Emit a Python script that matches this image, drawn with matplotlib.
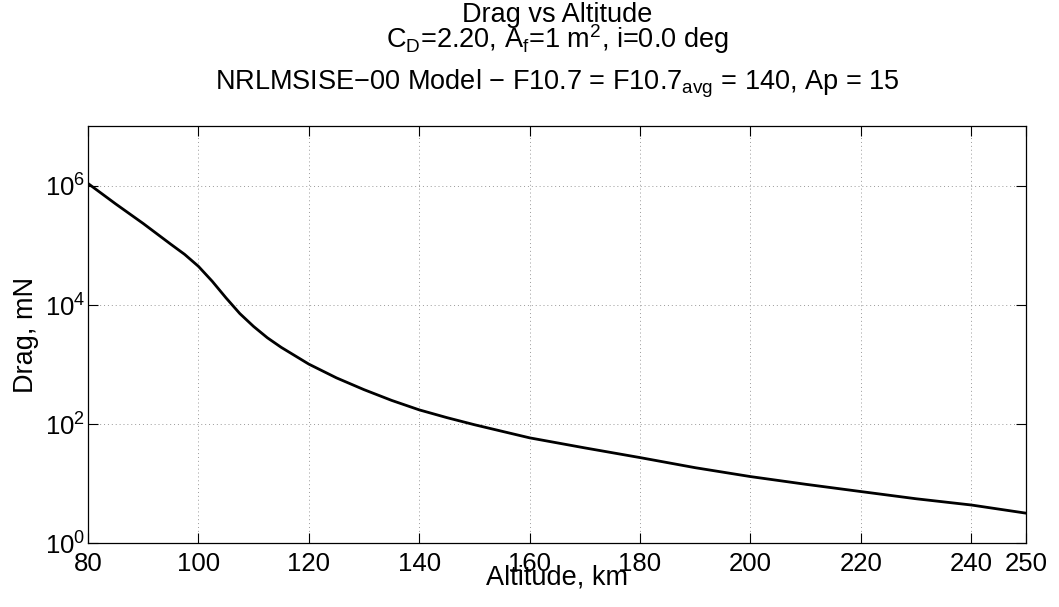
#!/usr/bin/env python3

import numpy as np
import matplotlib
matplotlib.use("Agg")
import matplotlib.pyplot as plt
from matplotlib.ticker import FixedLocator, NullLocator

# ---- DATA ----
altitude_km = [80, 85, 90, 95, 97.5, 100, 102.5, 105, 107.5, 110, 112.5, 115,
               120, 125, 130, 135, 140, 145, 150, 155, 160, 170, 180, 190,
               200, 210, 220, 230, 240, 250]
drag_mN = [1.10e6, 5.0e5, 2.34e5, 1.05e5, 7.1e4, 4.47e4, 2.51e4, 1.32e4,
           7.2e3, 4.37e3, 2.82e3, 1.95e3, 1.02e3, 600, 380, 251, 174, 129,
           98, 76, 59, 40, 27.5, 18.6, 13.2, 9.8, 7.4, 5.6, 4.4, 3.2]

x_ticks = [80, 100, 120, 140, 160, 180, 200, 220, 240, 250]
y_ticks = [1e0, 1e2, 1e4, 1e6]

title_lines = [
    "Drag vs Altitude",
    r"C$_\mathrm{D}$=2.20, A$_\mathrm{f}$=1 m$^\mathrm{2}$, i=0.0 deg",
    "NRLMSISE\u221200 Model \u2212 F10.7 = F10.7$_\\mathrm{avg}$ = 140, Ap = 15",
]

# ---- STYLE ----
plt.rcParams["font.family"] = ["Liberation Sans", "DejaVu Sans"]
plt.rcParams["mathtext.fontset"] = "custom"
plt.rcParams["mathtext.rm"] = "Liberation Sans"
plt.rcParams["mathtext.it"] = "Liberation Sans:italic"
plt.rcParams["mathtext.bf"] = "Liberation Sans:bold"
plt.rcParams["axes.unicode_minus"] = True

fig = plt.figure(figsize=(10.59, 6.07), dpi=100)
ax = fig.add_axes([0.0831, 0.1049, 0.8862, 0.6869])

ax.plot(altitude_km, drag_mN, color="black", linewidth=2.0)

ax.set_yscale("log")
ax.set_xlim(80, 250)
ax.set_ylim(1e0, 1e7)
ax.xaxis.set_major_locator(FixedLocator(x_ticks))
ax.yaxis.set_major_locator(FixedLocator(y_ticks))
ax.yaxis.set_minor_locator(NullLocator())
ax.xaxis.set_minor_locator(NullLocator())

ax.grid(True, which="major", linestyle=(0, (1, 3)), color="#999999", linewidth=0.7)
ax.tick_params(axis="both", which="major", direction="in", length=7, width=0.8,
               top=True, right=True, labelsize=18.5, color="black")
ax.tick_params(axis="x", pad=6)
ax.tick_params(axis="y", pad=2)

for spine in ax.spines.values():
    spine.set_linewidth(0.9)

ax.set_xlabel("Altitude, km", fontsize=19.5)
ax.xaxis.set_label_coords(0.5, -0.05)
ax.set_ylabel("Drag, mN", fontsize=19.5)
ax.yaxis.set_label_coords(-0.052, 0.5)

# three-line title, baselines measured in pixels from top
cx = 557 / 1059
for text, base_px in zip(title_lines, [21.7, 47.5, 89.3]):
    fig.text(cx, 1 - base_px / 607, text, ha="center", va="baseline", fontsize=19.5)

fig.savefig("out.png", dpi=100)
print("Saved: out.png")
